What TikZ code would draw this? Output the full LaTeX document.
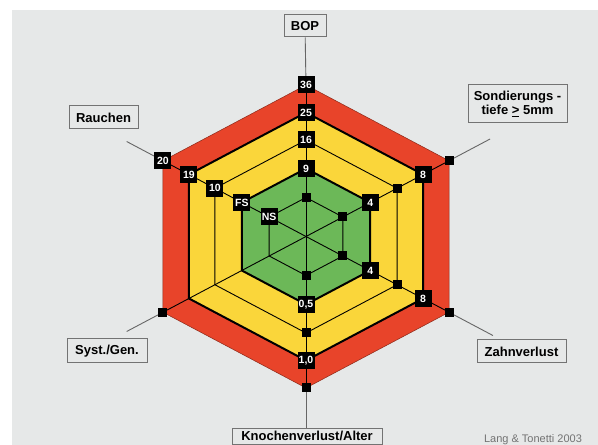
\documentclass[tikz,border=0pt]{standalone}
\usepackage{fontspec}
\setmainfont{Liberation Sans}
\definecolor{ringred}{RGB}{232, 68, 42}
\definecolor{ringyellow}{RGB}{250, 214, 58}
\definecolor{ringgreen}{RGB}{108, 184, 88}
\definecolor{panelgray}{RGB}{230, 232, 232}
\usepackage{tikz}
\usetikzlibrary{
  positioning,
  calc
}

\begin{document}
\begin{tikzpicture}[x=1pt, y=1pt,
  valbox/.style={fill=black, text=white, font=\bfseries\fontsize{10.5}{10.5}\selectfont,
                 minimum size=17pt, inner sep=1pt},
  dot/.style={fill=black, minimum size=9pt, inner sep=0pt},
  axislabel/.style={draw=black!55, line width=1pt, align=center, inner sep=3pt,
                    font=\bfseries\fontsize{13}{14.5}\selectfont},
  leader/.style={draw=black!60, line width=0.9pt},
  thinring/.style={draw=black, line width=0.9pt},
  thickring/.style={draw=black, line width=2pt, line join=miter}]
\useasboundingbox (0,0) rectangle (598,445);
\clip (0,0) rectangle (598,445);
\fill[white] (0,0) rectangle (598,445);
\fill[panelgray] (12,0) rectangle (598,435);

% label boxes round the chart
\node[axislabel, minimum width=42pt, minimum height=22pt] (bop) at (305,419) {BOP};
\node[axislabel, minimum width=99pt, minimum height=38pt] (sond) at (517.5,341)
  {Sondierungs -\\tiefe \underline{>} 5mm};
\node[axislabel, minimum width=69pt, minimum height=23pt] (rauchen) at (103.5,327.5) {Rauchen};
\node[axislabel, minimum width=80pt, minimum height=24pt] (syst) at (107,94) {Syst./Gen.};
\node[axislabel, minimum width=89pt, minimum height=23pt] (zahn) at (521.5,93.5) {Zahnverlust};
\node[axislabel, minimum width=150pt, anchor=north] (knochen) at (307,17) {Knochenverlust/Alter};
\node[text=black!55, font=\fontsize{11}{11}\selectfont] (quelle) at (533,5) {Lang \& Tonetti 2003};

\begin{scope}[shift={(306,208.5)}, xscale=1.09]
  % risk rings
  \fill[ringred] (90:151.5) \foreach \a in {30,-30,-90,-150,150} { -- (\a:151.5)} -- cycle;
  \fill[ringyellow] (90:124) \foreach \a in {30,-30,-90,-150,150} { -- (\a:124)} -- cycle;
  \fill[ringgreen] (90:68) \foreach \a in {30,-30,-90,-150,150} { -- (\a:68)} -- cycle;
  \draw[draw=ringred!60!black, line width=0.5pt]
    (90:151.5) \foreach \a in {30,-30,-90,-150,150} { -- (\a:151.5)} -- cycle;
  \foreach \r in {96.5,39}
    \draw[thinring] (90:\r) \foreach \a in {30,-30,-90,-150,150} { -- (\a:\r)} -- cycle;

  % axes and outer vertices
  \coordinate (c) at (0,0);
  \foreach \a in {90,30,-30,-90,-150,150} {
    \coordinate (v\a) at (\a:151.5);
    \draw[thinring] (c) -- (v\a);
  }
  \coordinate (eSond) at (30:195);
  \coordinate (eRauchen) at (150:190);
  \coordinate (eSyst) at (-150:190);
  \coordinate (eZahn) at (-30:198);

  \foreach \r in {124,68}
    \draw[thickring] (90:\r) \foreach \a in {30,-30,-90,-150,150} { -- (\a:\r)} -- cycle;
\end{scope}

% leader lines
\draw[leader] (v90) -- (bop);
\draw[leader] (v30) -- (eSond);
\draw[leader] (v150) -- (eRauchen);
\draw[leader] (v-150) -- (eSyst);
\draw[leader] (v-30) -- (eZahn);
\draw[leader] (v-90) -- (v-90 |- knochen.north);

\begin{scope}[shift={(306,208.5)}, xscale=1.09]
  % markers
  \foreach \a in {90,30,-30,-90} {
    \foreach \r in {151.5,124,96.5,68,39}
      \node[dot] at (\a:\r) {};
  }
  \node[dot] at (-150:151.5) {};
  % values
  \foreach \a/\r/\t in {90/151.5/36, 90/124/25, 90/96.5/16, 90/68/9,
                        30/124/8, 30/68/4, -30/124/8, -30/68/4,
                        -90/124/{1,0}, -90/68/{0,5},
                        150/151.5/20, 150/124/19, 150/96.5/10, 150/68/FS, 150/39/NS}
    \node[valbox] at (\a:\r) {\t};
\end{scope}
\end{tikzpicture}
\end{document}
